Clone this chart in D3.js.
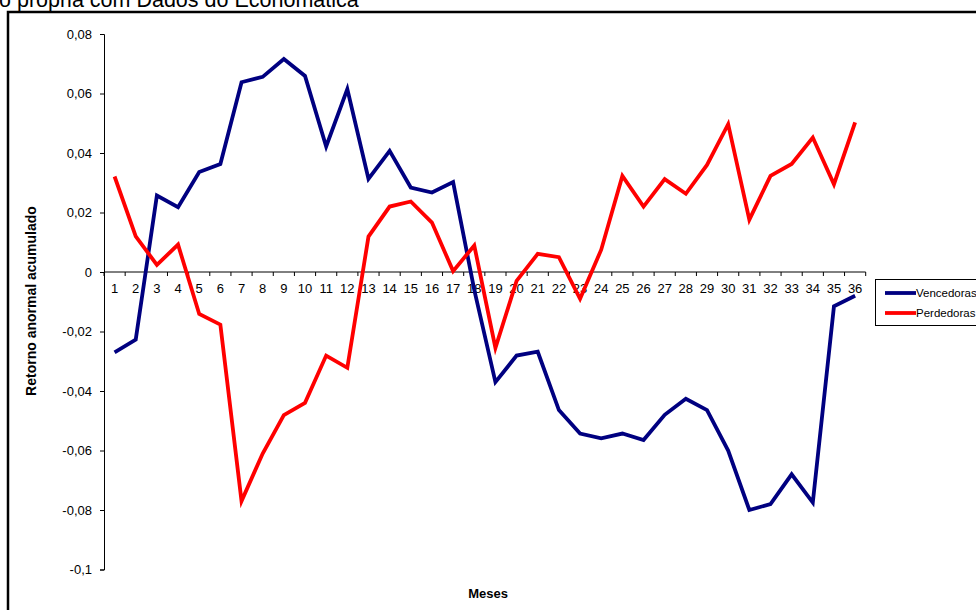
<!DOCTYPE html>
<html><head><meta charset="utf-8">
<script src="https://cdn.jsdelivr.net/npm/d3@7"></script>
<style>body{margin:0;background:#fff;overflow:hidden}svg{display:block;font-family:Arial,"Liberation Sans",sans-serif}</style>
</head><body><svg id="c" width="976" height="610"></svg>
<script>
const months = d3.range(1, 37);
const vencedoras = [-0.027,-0.0227,0.0257,0.0218,0.0336,0.0363,0.0638,0.0656,0.0716,0.0659,0.0422,0.0615,0.0313,0.0407,0.0284,0.0267,0.0302,-0.006,-0.037,-0.0281,-0.0268,-0.0464,-0.0543,-0.0559,-0.0543,-0.0565,-0.048,-0.0426,-0.0464,-0.060,-0.080,-0.078,-0.068,-0.0775,-0.0115,-0.008];
const perdedoras = [0.0321,0.012,0.0024,0.0092,-0.0141,-0.0177,-0.077,-0.061,-0.0481,-0.044,-0.0281,-0.0322,0.0119,0.022,0.0237,0.0166,0.0003,0.0089,-0.0255,-0.003,0.0061,0.005,-0.009,0.0075,0.0323,0.022,0.0312,0.0263,0.036,0.0497,0.0176,0.0323,0.0363,0.0452,0.0295,0.0503];
const yTicks = [0.08,0.06,0.04,0.02,0,-0.02,-0.04,-0.06,-0.08,-0.1];
const seriesNames = ["Vencedoras","Perdedoras"];
const colors = ["#000080","#ff0000"];

const svg = d3.select("#c");
const fmt = v => v === 0 ? "0" : String(+v.toFixed(2)).replace(".", ",");

// source text (clipped at top in the original) and chart frame
svg.append("text").attr("x", -1).attr("y", 7).attr("font-size", 21.5).attr("fill", "#000")
  .text("o própria com Dados do Economática");
svg.append("path").attr("d", "M8,612V12H980").attr("fill", "none").attr("stroke", "#000").attr("stroke-width", 2.5);

const x = d3.scaleBand().domain(months).range([104, 865.7]).paddingInner(0).paddingOuter(0);
const y = d3.scaleLinear().domain([-0.1, 0.08]).range([569.5, 34]);

// y axis
const ya = svg.append("g").attr("transform", "translate(104,0)")
  .call(d3.axisLeft(y).tickValues(yTicks).tickFormat(fmt).tickSize(4).tickPadding(8));
ya.select(".domain").attr("stroke", "#000").attr("stroke-width", 1);
ya.selectAll(".tick line").attr("stroke", "#000");
ya.selectAll("text").attr("font-size", 13).attr("font-family", "Arial, 'Liberation Sans', sans-serif").attr("fill", "#000");

// x axis at zero with ticks between categories
const y0 = y(0);
svg.append("line").attr("x1", 104).attr("x2", 865.7).attr("y1", y0).attr("y2", y0).attr("stroke", "#000");
svg.selectAll(".xt").data(d3.range(0, 37)).join("line")
  .attr("x1", i => 104 + i * x.bandwidth()).attr("x2", i => 104 + i * x.bandwidth())
  .attr("y1", y0).attr("y2", y0 + 4).attr("stroke", "#000");
svg.selectAll(".xl").data(months).join("text")
  .attr("x", d => x(d) + x.bandwidth() / 2).attr("y", y0 + 21)
  .attr("text-anchor", "middle").attr("font-size", 13).attr("fill", "#000").text(d => d);

// axis titles
svg.append("text").attr("transform", "translate(36,301) rotate(-90)").attr("text-anchor", "middle")
  .attr("font-size", 14).attr("font-weight", "bold").text("Retorno anormal acumulado");
svg.append("text").attr("x", 488).attr("y", 598).attr("text-anchor", "middle")
  .attr("font-size", 13).attr("font-weight", "bold").text("Meses");

// lines
const line = d3.line().x((d, i) => x(months[i]) + x.bandwidth() / 2).y(d => y(d));
[vencedoras, perdedoras].forEach((s, k) => {
  svg.append("path").datum(s).attr("d", line).attr("fill", "none")
    .attr("stroke", colors[k]).attr("stroke-width", 3.8).attr("stroke-linejoin", "miter");
});

// legend
const lg = svg.append("g");
lg.append("rect").attr("x", 875.5).attr("y", 279.5).attr("width", 110).attr("height", 46)
  .attr("fill", "#fff").attr("stroke", "#000").attr("stroke-width", 1);
seriesNames.forEach((n, k) => {
  const yy = 293 + k * 20;
  lg.append("line").attr("x1", 885).attr("x2", 916).attr("y1", yy).attr("y2", yy)
    .attr("stroke", colors[k]).attr("stroke-width", 3.8);
  lg.append("text").attr("x", 916).attr("y", yy + 4).attr("font-size", 11.5).attr("fill", "#000").text(n);
});
</script></body></html>
